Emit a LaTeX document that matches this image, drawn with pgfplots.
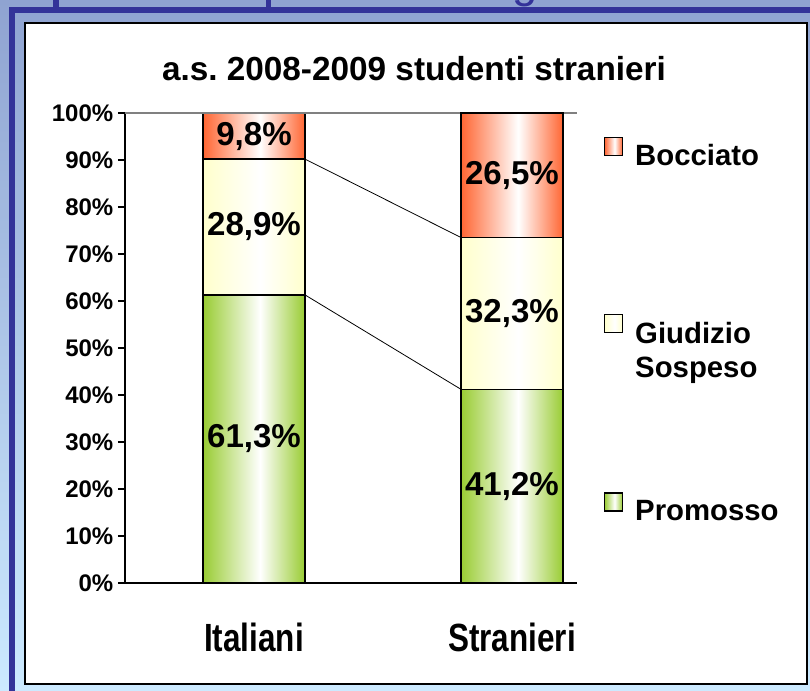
\documentclass[border=0pt]{standalone}
\usepackage{pgfplots}
\pgfplotsset{compat=1.18}
\usepackage{graphicx}
\usepackage{fontspec}
\setmainfont{Liberation Sans}
\frenchspacing
\definecolor{bgtop}{RGB}{143,163,209}
\definecolor{bgbot}{RGB}{204,234,255}
\definecolor{frameblue}{RGB}{51,51,153}
\definecolor{gr}{RGB}{153,204,51}
\definecolor{yl}{RGB}{255,255,204}
\definecolor{rd}{RGB}{255,102,51}
\pgfdeclarehorizontalshading{sgr}{100bp}{color(0bp)=(gr); color(25bp)=(gr); color(53bp)=(white); color(75bp)=(gr); color(100bp)=(gr)}
\pgfdeclarehorizontalshading{syl}{100bp}{color(0bp)=(yl); color(25bp)=(yl); color(53bp)=(white); color(75bp)=(yl); color(100bp)=(yl)}
\pgfdeclarehorizontalshading{srd}{100bp}{color(0bp)=(rd); color(25bp)=(rd); color(53bp)=(white); color(75bp)=(rd); color(100bp)=(rd)}
\newcommand\fs[2]{\fontsize{#1}{#2}\selectfont\bfseries}
\pgfplotsset{
  lgsq/.style={legend image code/.code={\draw[##1] (0pt,0pt) rectangle (13.5pt,13.5pt);}},
  common/.style={
    at={(93.75pt,81pt)}, anchor=south west, scale only axis,
    width=339pt, height=352.5pt,
    xmin=-0.5, xmax=1.252, ymin=0, ymax=100,
  },
  seg/.style={draw=black, line width=1pt, shade, shading=#1},
}
\begin{document}
\begin{tikzpicture}[x=0.75pt,y=0.75pt]
\useasboundingbox (0,0) rectangle (810,691);
% background and frame
\shade[top color=bgtop, bottom color=bgbot] (0,0) rectangle (810,691);
\node[anchor=base, text=frameblue, font=\fontsize{34pt}{40pt}\selectfont] at (525,693) {g};
\fill[frameblue] (9,0) rectangle (15,684);
\fill[frameblue] (9,678) rectangle (810,684);
\fill[frameblue] (53,684) rectangle (59,691);
\fill[frameblue] (266,684) rectangle (271,691);
\draw[black, line width=1.1pt, fill=white] (25,7) rectangle (807,668);
\node[font=\fs{25pt}{30pt}] at (414,622) {a.s. 2008-2009 studenti stranieri};

% Italiani stack, axis decorations and legend
\begin{axis}[common,
  ybar stacked, bar width=0.395,
  axis x line*=bottom, axis y line*=left,
  axis line style={-, black, line width=0.8pt},
  xtick={0,1}, xticklabels={\scalebox{1}[1.25]{Italiani},\scalebox{1}[1.25]{Stranieri}},
  x tick style={draw=none},
  xticklabel style={font=\fs{23.6pt}{28pt}, anchor=base, yshift=-46pt},
  extra x ticks={-0.5,0.5}, extra x tick labels={},
  extra x tick style={tick align=outside, major tick length=5.25pt, tick style={black, line width=0.8pt}},
  ytick={0,10,...,100},
  yticklabels={0\%,10\%,20\%,30\%,40\%,50\%,60\%,70\%,80\%,90\%,100\%},
  yticklabel style={font=\fs{18pt}{21pt}},
  y tick style={black, line width=0.8pt},
  tick align=outside, major tick length=5.25pt,
  legend style={at={(axis description cs:1.05,0.955)}, anchor=north west,
    draw=none, fill=none, row sep=108pt, column sep=7pt,
    font=\fs{22pt}{25.5pt}, cells={anchor=west}},
  reverse legend,
  after end axis/.code={\draw[gray, line width=1pt] (rel axis cs:0,1) -- (rel axis cs:1,1);},
]
\addplot[lgsq, seg=sgr] coordinates {(0,61.3)};
\addlegendentry{Promosso}
\addplot[lgsq, seg=syl] coordinates {(0,28.9)};
\addlegendentry{\raisebox{0pt}[\height][0pt]{\begin{tabular}[t]{@{}l@{}}Giudizio\\Sospeso\end{tabular}}}
\addplot[lgsq, seg=srd] coordinates {(0,9.8)};
\addlegendentry{Bocciato}
\end{axis}

% Stranieri stack
\begin{axis}[common, hide axis, ybar stacked, bar width=0.395]
\addplot[seg=sgr] coordinates {(1,41.2)};
\addplot[seg=syl] coordinates {(1,32.3)};
\addplot[seg=srd] coordinates {(1,26.5)};
\end{axis}

\begin{axis}[common, hide axis]
% series lines between the stacks
\addplot[black, line width=0.6pt] coordinates {(0.1975,61.3) (0.8025,41.2)};
\addplot[black, line width=0.6pt] coordinates {(0.1975,90.2) (0.8025,73.5)};
% value labels at the middle of each segment
\addplot[draw=none, mark=none, nodes near coords, point meta=explicit symbolic,
  every node near coord/.append style={anchor=center, font=\fs{24.8pt}{29pt}}]
  coordinates {(0,30.65)[61,3\%] (0,75.75)[28,9\%] (0,95.1)[9,8\%]
               (1,20.6)[41,2\%] (1,57.35)[32,3\%] (1,86.75)[26,5\%]};
\end{axis}
\end{tikzpicture}
\end{document}
